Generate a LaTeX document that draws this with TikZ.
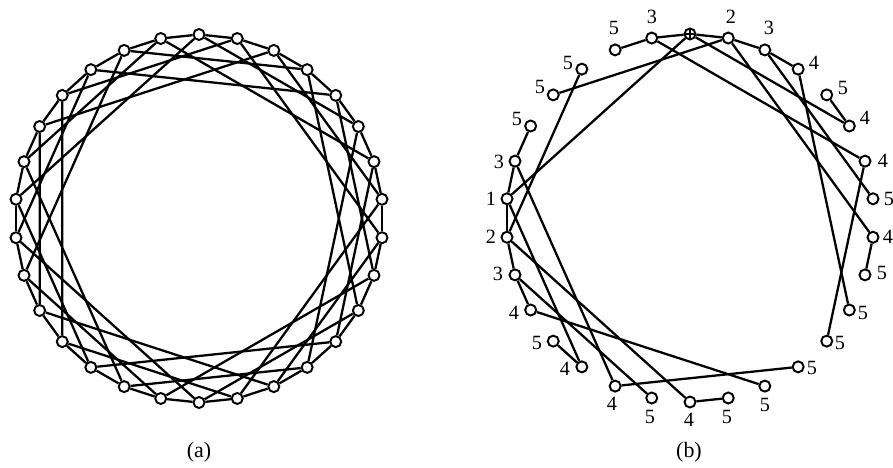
\documentclass[tikz,border=0pt]{standalone}
\usepackage{fontspec}
\setmainfont{Liberation Serif}
\usetikzlibrary{calc}

\begin{document}
\begin{tikzpicture}[
    x=0.02cm, y=-0.02cm,
    vtx/.style={circle, draw, line width=1.1pt, fill=white, minimum size=0.22cm, inner sep=0pt},
    link/.style={line width=1.3pt},
    lbl/.style={font=\fontsize{11.5}{13}\selectfont, inner sep=0pt},
    captxt/.style={font=\fontsize{12.5}{14}\selectfont, inner sep=0pt},
  ]
    \useasboundingbox (0,0) rectangle (893,467);
    % graph (a): 30 vertices on a circle
    \foreach \i in {0,...,29}
      \node[vtx] (a\i) at ({199+184*cos(90+12*\i)}, {218.5-184*sin(90+12*\i)}) {};
    \foreach \i in {0,...,29} {
      \pgfmathtruncatemacro\j{mod(\i+1,30)}
      \draw[link] (a\i) -- (a\j);
    }
    % chords of length 7 and 5
    \foreach \i in {0,2,...,28} {
      \pgfmathtruncatemacro\j{mod(\i+7,30)}
      \pgfmathtruncatemacro\k{mod(\i+25,30)}
      \draw[link] (a\i) -- (a\j) (a\i) -- (a\k);
    }
    \node[captxt] (capa) at (199,452) {(a)};

    % broadcast tree (b)
    \foreach \i in {0,...,29}
      \node[vtx] (b\i) at ({690+184*cos(90+12*\i)}, {218-184*sin(90+12*\i)}) {};
    \draw[line width=0.7pt] (b0.north) -- (b0.south) (b0.west) -- (b0.east);
    \foreach \u/\v in {0/7, 0/29, 0/1, 0/25, 7/8, 7/6, 7/12, 29/28, 29/22, 29/4,
                       8/9, 8/15, 8/3, 1/24, 1/2, 6/13, 6/5, 28/27, 28/23, 9/10,
                       9/14, 25/26, 12/11, 22/21, 15/16, 24/19, 13/18, 27/20, 10/17}
      \draw[link] (b\u) -- (b\v);
    % time labels
    \foreach \i/\t/\x/\y in {1/3/652/17, 2/5/614/28, 3/5/568/63, 4/5/540/87, 5/5/517/119,
                             6/3/499/162, 7/1/491/199, 8/2/491/237, 9/3/498/274, 10/4/514/313,
                             11/5/537/343, 12/4/565/369, 13/4/612/404, 14/5/650/417, 15/4/689/420,
                             16/5/727/417, 17/5/765/405, 18/5/812/368, 19/5/840/343, 20/5/863/313,
                             21/5/882/273, 22/4/888/237, 23/5/889/199, 24/4/883/161, 25/4/865/118,
                             26/5/843/88, 27/4/814/63, 28/3/769/28, 29/2/731/17}
      \node[lbl] (t\i) at (\x,\y) {\t};
    \node[captxt] (capb) at (689,452) {(b)};
\end{tikzpicture}
\end{document}
